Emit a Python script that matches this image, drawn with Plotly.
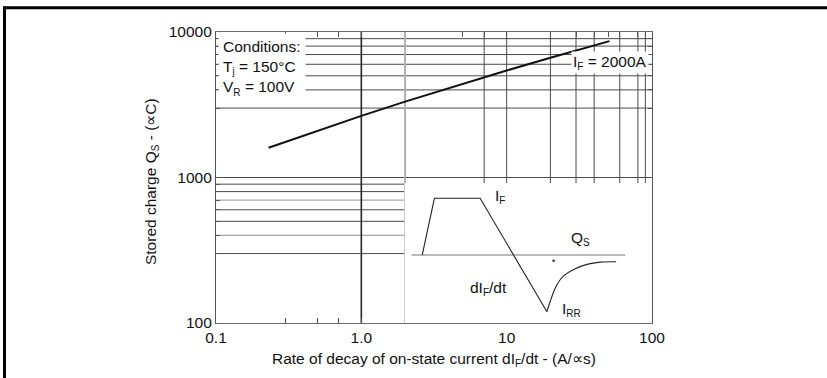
import plotly.graph_objects as go

# Stored charge vs. rate of decay of on-state current (IF = 2000 A)
didt = [0.23, 0.5, 1.0, 2.0, 5.0, 10.0, 20.0, 51.0]
qs = [1600, 2100, 2650, 3320, 4420, 5440, 6650, 8650]

# Axis ticks
x_tickvals = [0.1, 0.3, 0.5, 0.7, 1, 5, 7, 10, 20, 30, 40, 50, 60, 80, 90, 100]
x_ticktext = ["0.1", "", "", "", "1.0", "", "", "10", "", "", "", "", "", "", "", "100"]
y_tickvals = [100, 300, 400, 500, 600, 700, 800, 900, 1000,
              3000, 4000, 5000, 6000, 7000, 8000, 9000, 10000]
y_ticktext = ["100", "", "", "", "", "", "", "", "1000",
              "", "", "", "", "", "", "", "10000"]

# Grid of the log paper (partial lines)
h_full = [1000, 3000, 4000, 5000, 6000, 7000, 8000, 9000]
h_lower_dark = [300, 500, 600, 800, 900]
h_lower_light = [400, 700]
v_upper = [7, 10, 20, 30, 40, 60, 80, 90]
v_dark = [1.0]
v_light = [2.0]

# Inset: schematic of the reverse-recovery waveform (inset units 0..1)
base_x = [0.028, 0.892]
base_y = [0.486, 0.486]
pulse_x = [0.071, 0.120, 0.305, 0.575]
pulse_y = [0.486, 0.891, 0.891, 0.081]
recov_x = [0.575, 0.595, 0.615, 0.642, 0.683, 0.737, 0.791, 0.855]
recov_y = [0.081, 0.188, 0.271, 0.336, 0.383, 0.419, 0.435, 0.438]
dot_x = [0.602]
dot_y = [0.445]

FONT = "Liberation Sans, Arial, Helvetica, sans-serif"
FS = 15.5


def sub(s):
    return '<sub><span style="font-size:10px">' + s + '</span></sub>'


def hsegs(vals, x0, x1):
    xs, ys = [], []
    for v in vals:
        xs += [x0, x1, None]
        ys += [v, v, None]
    return xs, ys


def vsegs(vals, y0, y1):
    xs, ys = [], []
    for v in vals:
        xs += [v, v, None]
        ys += [y0, y1, None]
    return xs, ys


fig = go.Figure()


def grid_trace(xs, ys, color, width):
    fig.add_trace(go.Scatter(x=xs, y=ys, mode="lines", hoverinfo="skip",
                             line=dict(color=color, width=width),
                             showlegend=False, connectgaps=False))


gx, gy = hsegs(h_full, 0.1, 100)
grid_trace(gx, gy, "#4a4a4a", 1)
gx, gy = hsegs(h_lower_dark, 0.1, 2.0)
grid_trace(gx, gy, "#4a4a4a", 1)
gx, gy = hsegs(h_lower_light, 0.1, 2.0)
grid_trace(gx, gy, "#a8a8a8", 1.2)
gx, gy = vsegs(v_upper, 910, 10000)
grid_trace(gx, gy, "#4a4a4a", 1)
gx, gy = vsegs(v_light, 100, 10000)
grid_trace(gx, gy, "#b0b0b0", 2)
gx, gy = vsegs(v_dark, 100, 10000)
grid_trace(gx, gy, "#262626", 1.6)

# Stored charge curve
fig.add_trace(go.Scatter(x=didt, y=qs, mode="lines", showlegend=False,
                         line=dict(color="#111111", width=2)))

# Inset waveform
fig.add_trace(go.Scatter(x=base_x, y=base_y, mode="lines", xaxis="x2", yaxis="y2",
                         showlegend=False, line=dict(color="#777777", width=1.2)))
fig.add_trace(go.Scatter(x=pulse_x, y=pulse_y, mode="lines", xaxis="x2", yaxis="y2",
                         showlegend=False, line=dict(color="#222222", width=1.1)))
fig.add_trace(go.Scatter(x=recov_x, y=recov_y, mode="lines", xaxis="x2", yaxis="y2",
                         showlegend=False, line=dict(color="#222222", width=1.1, shape="spline")))
fig.add_trace(go.Scatter(x=dot_x, y=dot_y, mode="markers", xaxis="x2", yaxis="y2",
                         showlegend=False, marker=dict(color="#222222", size=2.5)))

axis_font = dict(family=FONT, size=FS, color="#111111")

fig.update_layout(
    width=827, height=378,
    margin=dict(l=216, r=175, t=32, b=55),
    paper_bgcolor="white", plot_bgcolor="white",
    font=dict(family=FONT, size=FS, color="#111111"),
    xaxis=dict(type="log", range=[-1, 2], showgrid=False, zeroline=False,
               tickmode="array", tickvals=x_tickvals, ticktext=x_ticktext,
               ticks="inside", ticklen=5, tickwidth=1, tickcolor="#555555",
               showline=True, linecolor="#6a6a6a", linewidth=1.2, mirror="ticks",
               tickfont=axis_font, fixedrange=True),
    yaxis=dict(type="log", range=[2, 4], showgrid=False, zeroline=False,
               tickmode="array", tickvals=y_tickvals, ticktext=y_ticktext,
               ticks="inside", ticklen=4, tickwidth=1, tickcolor="#555555",
               showline=True, linecolor="#555555", linewidth=1.2, mirror="ticks",
               tickfont=axis_font, fixedrange=True),
    xaxis2=dict(domain=[0.4328, 1.0], range=[0, 1], visible=False,
                anchor="y2", fixedrange=True),
    yaxis2=dict(domain=[0.0, 0.481], range=[0, 1], visible=False,
                anchor="x2", fixedrange=True),
)

annotations = [
    # axis titles
    dict(text="Rate of decay of on-state current dI" + sub("F") + "/dt - (A/∝s)",
         xref="paper", yref="paper", x=0.5, y=-0.127, showarrow=False,
         xanchor="center", yanchor="middle", font=axis_font),
    dict(text="Stored charge Q" + sub("S") + " - (∝C)", textangle=-90,
         xref="paper", yref="paper", x=-0.149, y=0.4845, showarrow=False,
         xanchor="center", yanchor="middle", font=axis_font),
    # test conditions
    dict(text="Conditions:<br>T" + sub("j") + " = 150°C<br>V" + sub("R") + " = 100V",
         xref="paper", yref="paper", x=0.004, y=0.996, showarrow=False,
         xanchor="left", yanchor="top", align="left", bgcolor="white",
         borderpad=4, font=axis_font),
    # curve label
    dict(text="I" + sub("F") + " = 2000A", xref="paper", yref="paper",
         x=0.9037, y=0.8935, showarrow=False, xanchor="center", yanchor="middle",
         bgcolor="white", borderpad=1, font=axis_font),
    # inset labels
    dict(text="I" + sub("F"), xref="x2", yref="y2", x=0.386, y=0.907,
         showarrow=False, font=axis_font),
    dict(text="Q" + sub("S"), xref="x2", yref="y2", x=0.710, y=0.605,
         showarrow=False, font=axis_font),
    dict(text="dI" + sub("F") + "/dt", xref="x2", yref="y2", x=0.337, y=0.248,
         showarrow=False, font=axis_font),
    dict(text="I" + sub("RR"), xref="x2", yref="y2", x=0.676, y=0.093,
         showarrow=False, font=axis_font),
]
fig.update_layout(annotations=annotations)

# Outer frame of the figure panel
fig.update_layout(shapes=[
    dict(type="line", xref="paper", yref="paper", x0=-0.4851, x1=1.9,
         y0=1.0832, y1=1.0832, line=dict(color="black", width=3)),
    dict(type="line", xref="paper", yref="paper", x0=-0.4851, x1=-0.4851,
         y0=1.0884, y1=-0.2, line=dict(color="black", width=3)),
])

fig.write_html("out.html")
